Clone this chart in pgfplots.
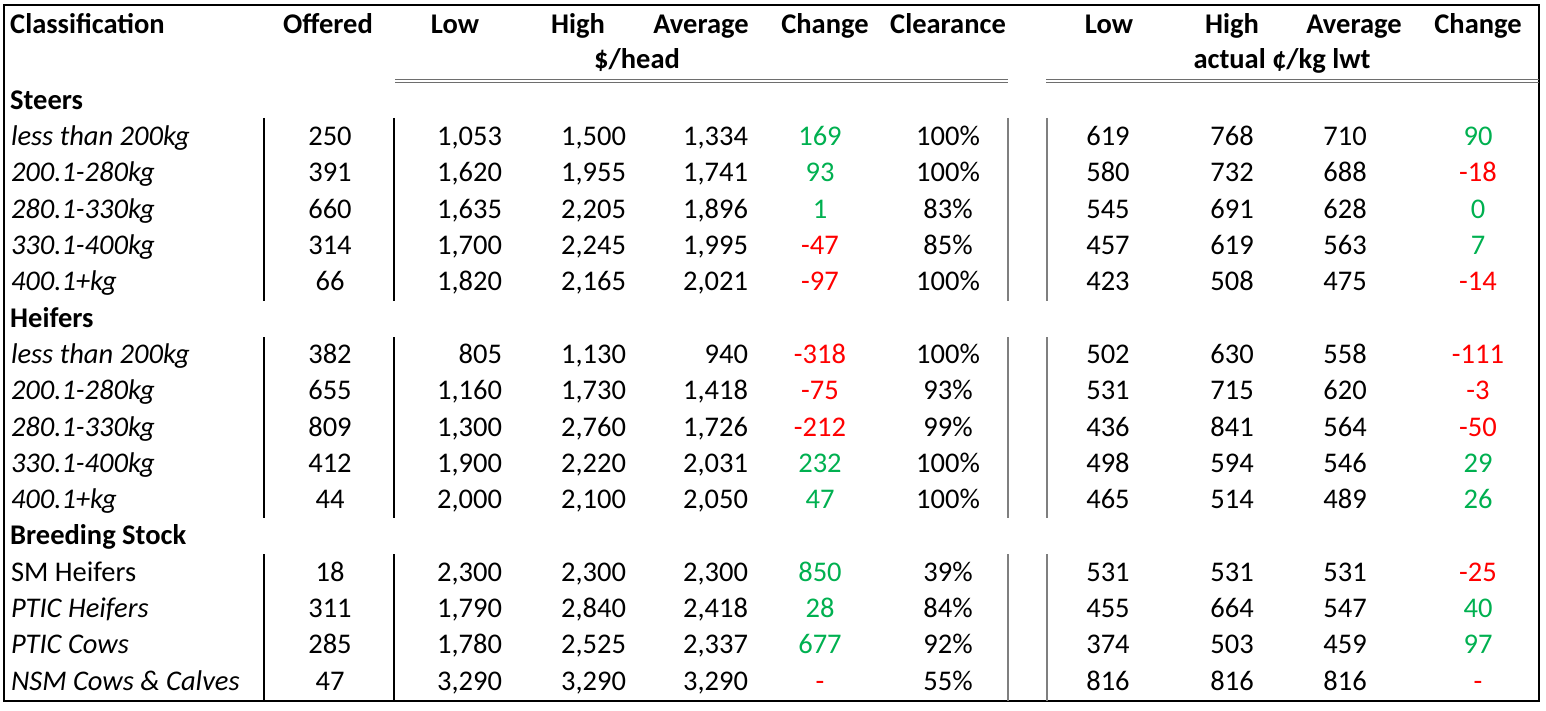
\documentclass[border=0pt]{standalone}
\usepackage{pgfplots}
\pgfplotsset{compat=1.18}
\usepackage{pgfplotstable}
\usepackage{fontspec}
\setmainfont{Carlito}
\definecolor{cg}{HTML}{00B050}
\definecolor{cr}{HTML}{FF0000}
\definecolor{ln}{HTML}{7F7F7F}
\definecolor{dl}{HTML}{6E6E6E}
\protected\def\G{\color{cg}}
\protected\def\R{\color{cr}}
\protected\def\I{\itshape}
\newcommand\fs{\fontsize{28.5}{34}\selectfont}

\pgfplotstableread[col sep=semicolon]{
y;lab;off;low;high;avg;chg;clr;klow;khigh;kavg;kchg
145.7;\I less than 200kg;250;1,053;1,500;1,334;\G 169;100\%;619;768;710;\G 90
182.0;\I 200.1-280kg;391;1,620;1,955;1,741;\G 93;100\%;580;732;688;\R -18
218.3;\I 280.1-330kg;660;1,635;2,205;1,896;\G 1;83\%;545;691;628;\G 0
254.6;\I 330.1-400kg;314;1,700;2,245;1,995;\R -47;85\%;457;619;563;\G 7
290.9;\I 400.1+kg;66;1,820;2,165;2,021;\R -97;100\%;423;508;475;\R -14
363.4;\I less than 200kg;382;805;1,130;940;\R -318;100\%;502;630;558;\R -111
399.7;\I 200.1-280kg;655;1,160;1,730;1,418;\R -75;93\%;531;715;620;\R -3
436.0;\I 280.1-330kg;809;1,300;2,760;1,726;\R -212;99\%;436;841;564;\R -50
472.3;\I 330.1-400kg;412;1,900;2,220;2,031;\G 232;100\%;498;594;546;\G 29
508.6;\I 400.1+kg;44;2,000;2,100;2,050;\G 47;100\%;465;514;489;\G 26
581.2;SM Heifers;18;2,300;2,300;2,300;\G 850;39\%;531;531;531;\R -25
617.5;\I PTIC Heifers;311;1,790;2,840;2,418;\G 28;84\%;455;664;547;\G 40
653.8;\I PTIC Cows;285;1,780;2,525;2,337;\G 677;92\%;374;503;459;\G 97
690.1;\I NSM Cows \& Calves;47;3,290;3,290;3,290;\R -;55\%;816;816;816;\R -
}\rows

\pgfplotsset{txt/.style={draw=none, mark=none, forget plot, nodes near coords,
  point meta=explicit symbolic,
  every node near coord/.append style={anchor=#1, inner sep=0pt, outer sep=0pt, font=\fs, text=black}}}

\begin{document}
\begin{tikzpicture}
\begin{axis}[width=1546pt, height=711pt, scale only axis,
  xmin=0, xmax=1546, ymin=0, ymax=711, y dir=reverse,
  axis lines=none, clip=false]
\path (axis cs:0,0) rectangle (axis cs:1546,711);
% borders and rules
\draw[line width=2.5pt] (axis cs:4,5) rectangle (axis cs:1539,701);
\draw[line width=1.4pt] (axis cs:264,118) -- (axis cs:264,301);
\draw[line width=1.4pt] (axis cs:264,337) -- (axis cs:264,518);
\draw[line width=1.4pt] (axis cs:264,554) -- (axis cs:264,701);
\draw[line width=1.4pt] (axis cs:394,118) -- (axis cs:394,301);
\draw[line width=1.4pt] (axis cs:394,337) -- (axis cs:394,518);
\draw[line width=1.4pt] (axis cs:394,554) -- (axis cs:394,701);
\draw[ln, line width=1.4pt] (axis cs:1008,118) -- (axis cs:1008,301);
\draw[ln, line width=1.4pt] (axis cs:1008,337) -- (axis cs:1008,518);
\draw[ln, line width=1.4pt] (axis cs:1008,554) -- (axis cs:1008,701);
\draw[ln, line width=1.4pt] (axis cs:1047,118) -- (axis cs:1047,301);
\draw[ln, line width=1.4pt] (axis cs:1047,337) -- (axis cs:1047,518);
\draw[ln, line width=1.4pt] (axis cs:1047,554) -- (axis cs:1047,701);
\draw[dl, line width=1.1pt] (axis cs:395,79.5) -- (axis cs:1008,79.5);
\draw[dl, line width=1.1pt] (axis cs:395,82.5) -- (axis cs:1008,82.5);
\draw[dl, line width=1.1pt] (axis cs:1046,79.5) -- (axis cs:1539,79.5);
\draw[dl, line width=1.1pt] (axis cs:1046,82.5) -- (axis cs:1539,82.5);
% header
\begin{scope}[every node/.style={font=\fs\bfseries, inner sep=0pt}]
\node[anchor=base west] at (axis cs:10,33.5) {Classification};
\node[anchor=base] at (axis cs:328,33.5) {Offered};
\node[anchor=base] at (axis cs:455,33.5) {Low};
\node[anchor=base] at (axis cs:578,33.5) {High};
\node[anchor=base] at (axis cs:701,33.5) {Average};
\node[anchor=base] at (axis cs:825,33.5) {Change};
\node[anchor=base] at (axis cs:948,33.5) {Clearance};
\node[anchor=base] at (axis cs:1109,33.5) {Low};
\node[anchor=base] at (axis cs:1232,33.5) {High};
\node[anchor=base] at (axis cs:1354,33.5) {Average};
\node[anchor=base] at (axis cs:1478,33.5) {Change};
\node[anchor=base] at (axis cs:637,68.5) {\$/head};
\node[anchor=base] at (axis cs:1282,68.5) {actual ¢/kg lwt};
\node[anchor=base west] at (axis cs:10,109.4) {Steers};
\node[anchor=base west] at (axis cs:10,327.2) {Heifers};
\node[anchor=base west] at (axis cs:10,544.9) {Breeding Stock};
\end{scope}
% data
\addplot[txt=base west] table[x expr=11, y=y, meta=lab]{\rows};
\addplot[txt=base] table[x expr=330, y=y, meta=off]{\rows};
\addplot[txt=base east] table[x expr=502, y=y, meta=low]{\rows};
\addplot[txt=base east] table[x expr=626, y=y, meta=high]{\rows};
\addplot[txt=base east] table[x expr=748, y=y, meta=avg]{\rows};
\addplot[txt=base] table[x expr=820, y=y, meta=chg]{\rows};
\addplot[txt=base] table[x expr=948, y=y, meta=clr]{\rows};
\addplot[txt=base] table[x expr=1108, y=y, meta=klow]{\rows};
\addplot[txt=base] table[x expr=1232, y=y, meta=khigh]{\rows};
\addplot[txt=base] table[x expr=1345, y=y, meta=kavg]{\rows};
\addplot[txt=base] table[x expr=1478, y=y, meta=kchg]{\rows};
\end{axis}
\end{tikzpicture}
\end{document}
